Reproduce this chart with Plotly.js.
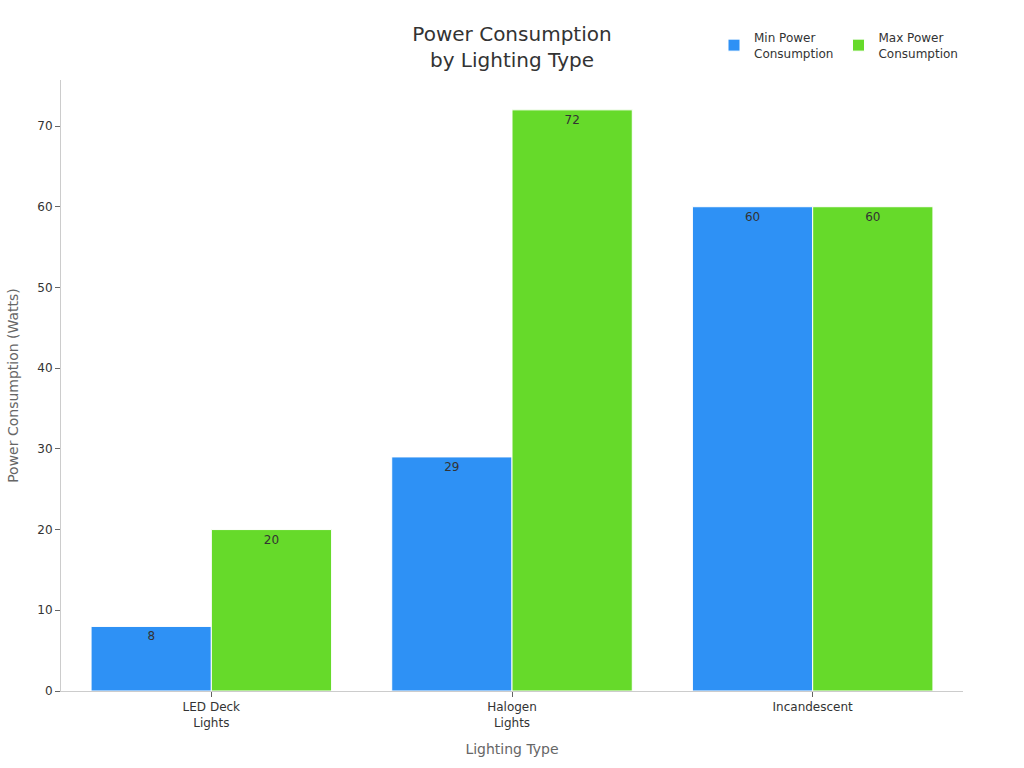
<!DOCTYPE html>
<html><head><meta charset="utf-8">
<script src="https://cdn.plot.ly/plotly-3.0.1.min.js"></script>
<style>body{margin:0;}#chart{width:1024px;height:768px;}</style>
</head><body><div id="chart"></div>
<script>
const categories = ["LED Deck<br>Lights", "Halogen<br>Lights", "Incandescent"];
const minPower = [8, 29, 60];
const maxPower = [20, 72, 60];
const seriesNames = ["Min Power<br>Consumption", "Max Power<br>Consumption"];
const colors = ["#2E91F5", "#66DA2A"];

const font = "DejaVu Sans, sans-serif";
const traces = [minPower, maxPower].map((vals, i) => ({
  type: "bar", x: categories, y: vals, name: seriesNames[i],
  marker: {color: colors[i], line: {color: "#ffffff", width: 1}},
  text: vals.map(String), textposition: "inside", insidetextanchor: "end",
  textfont: {family: font, size: 12, color: "#333333"},
  hoverinfo: "x+y"
}));

const layout = {
  width: 1024, height: 768,
  font: {family: font, size: 12, color: "#333333"},
  paper_bgcolor: "#ffffff", plot_bgcolor: "#ffffff",
  margin: {l: 61, r: 61, t: 80, b: 77, autoexpand: false},
  title: {text: "Power Consumption<br>by Lighting Type", x: 0.5, xanchor: "center", y: 0.947, yanchor: "top",
    font: {family: font, size: 20, color: "#333333"}},
  barmode: "group", bargap: 0.2, bargroupgap: 0,
  showlegend: true,
  legend: {orientation: "h", x: 1, xanchor: "right", yref: "container", y: 0.97, yanchor: "top",
    font: {family: font, size: 12, color: "#333333"}, itemwidth: 30},
  xaxis: {title: {text: "Lighting Type", font: {family: font, size: 14, color: "#666666"}, standoff: 15},
    showline: true, linecolor: "#cccccc", ticks: "outside", ticklen: 5, tickcolor: "#666666",
    showgrid: false, tickfont: {family: font, size: 12, color: "#333333"}},
  yaxis: {title: {text: "Power Consumption (Watts)", font: {family: font, size: 14, color: "#666666"}, standoff: 15},
    range: [0, 75.7], dtick: 10, showline: true, linecolor: "#cccccc", ticks: "outside", ticklen: 5, tickcolor: "#666666",
    showgrid: false, zeroline: false, tickfont: {family: font, size: 12, color: "#333333"}}
};
Plotly.newPlot("chart", traces, layout, {displayModeBar: false});
</script></body></html>
